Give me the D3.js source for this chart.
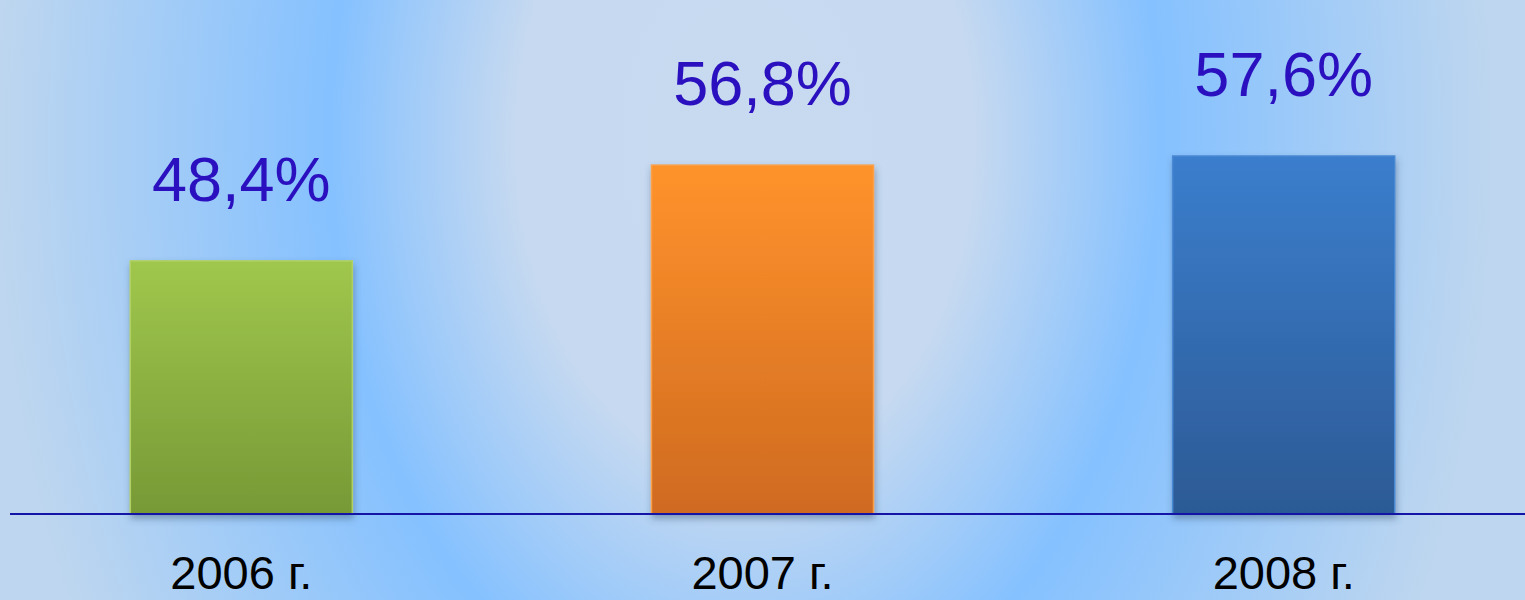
<!DOCTYPE html>
<html>
<head>
<meta charset="utf-8">
<script src="https://cdn.jsdelivr.net/npm/d3@7"></script>
<style>
  html, body { margin: 0; padding: 0; overflow: hidden; }
  svg { display: block; font-family: "Liberation Sans", Arial, sans-serif; }
</style>
</head>
<body>
<div id="chart"></div>
<script>
// data
const years = ["2006 г.", "2007 г.", "2008 г."];
const shares = [48.4, 56.8, 57.6];
const barTop = ["#a0c74d", "#ff932c", "#3b7ecd"];
const barBottom = ["#779936", "#cf6a20", "#2c5a95"];
const barEdge = ["#b0d064", "#f9a04a", "#4a88d2"];

const width = 1525, height = 600;
const baseY = 514;

const svg = d3.select("#chart").append("svg")
    .attr("width", width)
    .attr("height", height);

const defs = svg.append("defs");

// soft blue background, light in the middle with a brighter blue ring
const bg = defs.append("radialGradient")
    .attr("id", "bg")
    .attr("gradientUnits", "userSpaceOnUse")
    .attr("cx", 0).attr("cy", 0).attr("r", 1.9)
    .attr("gradientTransform", "translate(745,140) scale(415,600)");
bg.append("stop").attr("offset", 0).attr("stop-color", "#c7daf0");
bg.append("stop").attr("offset", 0.29).attr("stop-color", "#c6d9f0");
bg.append("stop").attr("offset", 0.526).attr("stop-color", "#85c1ff");
bg.append("stop").attr("offset", 0.95).attr("stop-color", "#bed6ef");

svg.append("rect")
    .attr("width", width)
    .attr("height", height)
    .attr("fill", "url(#bg)");

years.forEach((y, i) => {
    const g = defs.append("linearGradient")
        .attr("id", "bar" + i)
        .attr("x1", 0).attr("y1", 0).attr("x2", 0).attr("y2", 1);
    g.append("stop").attr("offset", 0).attr("stop-color", barTop[i]);
    g.append("stop").attr("offset", 1).attr("stop-color", barBottom[i]);
});

const shadow = defs.append("filter")
    .attr("id", "shadow")
    .attr("x", "-10%").attr("y", "-10%")
    .attr("width", "130%").attr("height", "130%");
shadow.append("feDropShadow")
    .attr("dx", 1).attr("dy", 4)
    .attr("stdDeviation", 3.5)
    .attr("flood-color", "#34506e")
    .attr("flood-opacity", 0.45);

const x = d3.scaleBand()
    .domain(years)
    .range([0, width])
    .paddingInner(0.574)
    .paddingOuter(0.25);

const y = d3.scaleLinear()
    .domain([26.2, 57.6])
    .range([baseY, 156]);

const data = years.map((d, i) => ({ year: d, value: shares[i], i: i }));

// bars
svg.selectAll(".bar")
    .data(data)
    .enter().append("rect")
    .attr("class", "bar")
    .attr("x", d => x(d.year))
    .attr("y", d => y(d.value))
    .attr("width", x.bandwidth())
    .attr("height", d => baseY - y(d.value))
    .attr("fill", d => `url(#bar${d.i})`)
    .attr("stroke", d => barEdge[d.i])
    .attr("stroke-width", 1.5)
    .attr("filter", "url(#shadow)");

// base line
svg.append("line")
    .attr("x1", 10).attr("x2", width)
    .attr("y1", baseY).attr("y2", baseY)
    .attr("stroke", "#1414a6")
    .attr("stroke-width", 2);

// value labels, decimal comma
const ru = d3.formatLocale({ decimal: ",", thousands: " ", grouping: [3], currency: ["", " ₽"] });
const fmt = ru.format(".1f");

svg.selectAll(".val")
    .data(data)
    .enter().append("text")
    .attr("class", "val")
    .attr("x", d => x(d.year) + x.bandwidth() / 2)
    .attr("y", d => y(d.value) - 60)
    .attr("text-anchor", "middle")
    .attr("font-size", 63)
    .attr("fill", "#2a10bf")
    .text(d => fmt(d.value) + "%");

// category labels
const xAxis = svg.append("g")
    .attr("transform", `translate(0,${baseY})`)
    .call(d3.axisBottom(x).tickSize(0).tickPadding(0));
xAxis.select(".domain").remove();
xAxis.selectAll("text")
    .attr("dy", null)
    .attr("y", 75)
    .attr("font-size", 47)
    .attr("font-family", "Liberation Sans, Arial, sans-serif")
    .attr("fill", "#000");
</script>
</body>
</html>
